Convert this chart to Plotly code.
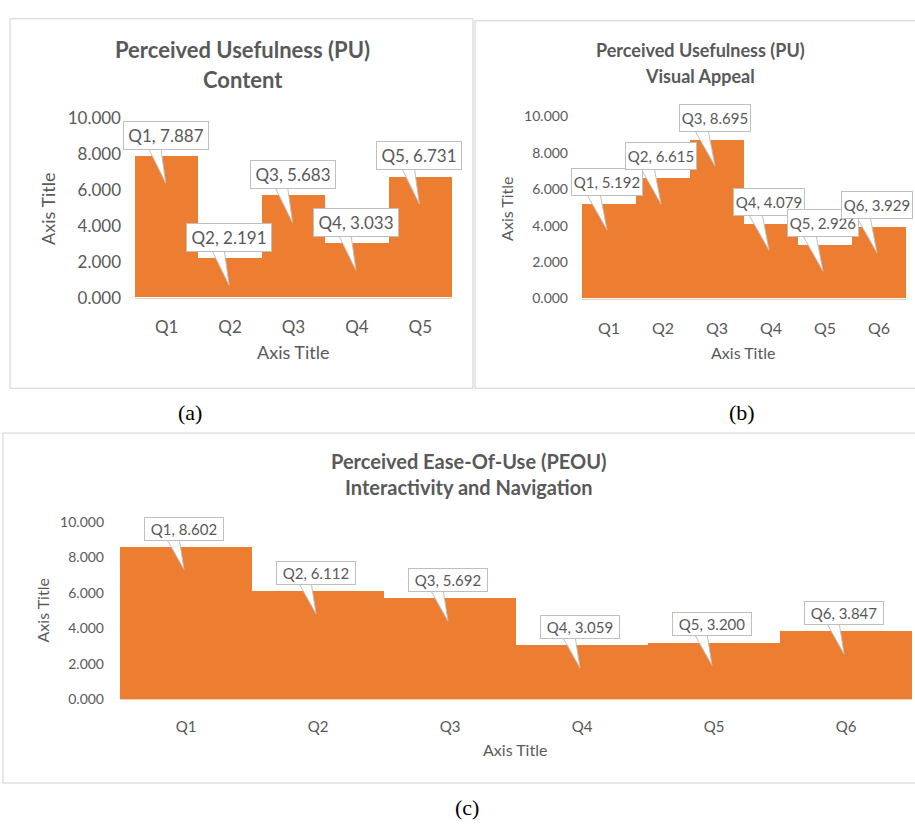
import plotly.graph_objects as go

# ---------------- data ----------------
cats_a = ["Q1", "Q2", "Q3", "Q4", "Q5"]
vals_a = [7.887, 2.191, 5.683, 3.033, 6.731]

cats_b = ["Q1", "Q2", "Q3", "Q4", "Q5", "Q6"]
vals_b = [5.192, 6.615, 8.695, 4.079, 2.926, 3.929]

cats_c = ["Q1", "Q2", "Q3", "Q4", "Q5", "Q6"]
vals_c = [8.602, 6.112, 5.692, 3.059, 3.200, 3.847]

y_ticks = [0, 2, 4, 6, 8, 10]

W, H = 915, 832
ORANGE = "#ED7D31"
GRAY = "#595959"
FONT = "Lato"


def px(x):
    return x / W


def py(y):
    return 1 - y / H


fig = go.Figure()

panels = [
    dict(cats=cats_a, vals=vals_a, sfx="", xd=(135, 452), yd=(294, 110),
         tick=17, xtick=17, lab=17, box=(84, 27), lab_up=21, tip=27, xs=-1, wedge=(-19, -6),
         title=("Perceived Usefulness (PU)", "Content"), tx=243, ty=(39, 70), tfs=22,
         ytitle=(48, 203), xtitle=(293, 350), afs=18, xstand=14, ystand=13),
    dict(cats=cats_b, vals=vals_b, sfx="2", xd=(582, 906), yd=(295, 108),
         tick=14, xtick=16, lab=15, box=(70, 26), lab_up=22, tip=26, xs=-2, wedge=(-23, -9),
         title=("Perceived Usefulness (PU)", "Visual Appeal"), tx=700, ty=(40, 67), tfs=18,
         ytitle=(507, 203), xtitle=(743, 350), afs=16, xstand=15, ystand=13),
    dict(cats=cats_c, vals=vals_c, sfx="3", xd=(120, 912), yd=(706, 524),
         tick=14, xtick=15, lab=15, box=(78, 22), lab_up=18, tip=23, xs=-2, wedge=(-20, -7),
         title=("Perceived Ease-Of-Use (PEOU)", "Interactivity and Navigation"), tx=469,
         ty=(462, 488), tfs=20, ytitle=(42, 615), xtitle=(515, 758), afs=16, xstand=14, ystand=15),
]

annotations = []
shapes = []

# frames
frame = dict(color="#d0d0d0", width=1)
shapes.append(dict(type="rect", xref="paper", yref="paper", x0=px(10), x1=px(473),
                   y0=py(387), y1=py(8), line=frame, layer="below"))
shapes.append(dict(type="rect", xref="paper", yref="paper", x0=px(475), x1=px(916),
                   y0=py(387), y1=py(10), line=frame, layer="below"))
shapes.append(dict(type="rect", xref="paper", yref="paper", x0=px(3), x1=px(916),
                   y0=py(792), y1=py(433), line=frame, layer="below"))

for p in panels:
    n = len(p["cats"])
    xa = "x" + p["sfx"]
    ya = "y" + p["sfx"]
    fig.add_trace(go.Bar(
        x=list(range(n)), y=p["vals"], width=1,
        marker=dict(color=ORANGE, line=dict(width=0)),
        xaxis=xa, yaxis=ya, showlegend=False, hoverinfo="skip",
    ))
    fig.layout["xaxis" + p["sfx"]] = dict(
        domain=[px(p["xd"][0]), px(p["xd"][1])], anchor=ya,
        range=[-0.5, n - 0.5], tickmode="array", tickvals=list(range(n)),
        ticktext=p["cats"], showgrid=False, zeroline=False,
        showline=True, linecolor="#e6d2c2", linewidth=1,
        tickfont=dict(family=FONT, size=p["xtick"], color=GRAY),
        ticklabelstandoff=p["xstand"], fixedrange=True,
    )
    fig.layout["yaxis" + p["sfx"]] = dict(
        domain=[py(p["yd"][0]), py(p["yd"][1])], anchor=xa,
        range=[0, 10], tickmode="array", tickvals=y_ticks,
        ticktext=[f"{v:.3f}" for v in y_ticks], showgrid=False, zeroline=False,
        showline=False, tickfont=dict(family=FONT, size=p["tick"], color=GRAY),
        ticklabelstandoff=p["ystand"], fixedrange=True,
    )
    # chart titles
    for line, yy in zip(p["title"], p["ty"]):
        annotations.append(dict(xref="paper", yref="paper", x=px(p["tx"]), y=py(yy),
                                text="<b>" + line + "</b>", showarrow=False,
                                xanchor="center", yanchor="middle",
                                font=dict(family=FONT, size=p["tfs"], color=GRAY)))
    # axis titles
    annotations.append(dict(xref="paper", yref="paper", x=px(p["xtitle"][0]), y=py(p["xtitle"][1]),
                            text="Axis Title", showarrow=False, xanchor="center", yanchor="middle",
                            font=dict(family=FONT, size=p["afs"], color=GRAY)))
    annotations.append(dict(xref="paper", yref="paper", x=px(p["ytitle"][0]), y=py(p["ytitle"][1]),
                            text="Axis Title", showarrow=False, xanchor="center", yanchor="middle",
                            textangle=-90, font=dict(family=FONT, size=p["afs"], color=GRAY)))
    # callouts
    bw, bh = p["box"]
    w0, w1 = p["wedge"]
    for i, (c, v) in enumerate(zip(p["cats"], p["vals"])):
        base = p["lab_up"] - bh / 2 + 2
        tip = -p["tip"]
        shapes.append(dict(
            type="path", xref=xa, yref=ya, xsizemode="pixel", ysizemode="pixel",
            xanchor=i, yanchor=v,
            path=f"M {w0} {base} L {w1} {base} L {p['xs']} {tip} Z",
            fillcolor="white", line=dict(color="#bfbfbf", width=1), layer="above",
        ))
        annotations.append(dict(
            xref=xa, yref=ya, x=i, y=v, text=f"{c}, {v:.3f}", showarrow=False,
            xanchor="center", yanchor="middle", yshift=p["lab_up"], xshift=p["xs"],
            width=bw, height=bh, align="center", valign="middle",
            bgcolor="white", bordercolor="#bfbfbf", borderwidth=1, borderpad=0,
            font=dict(family=FONT, size=p["lab"], color=GRAY),
        ))

# panel captions
for txt, x, y in [("(a)", 190, 412), ("(b)", 742, 412), ("(c)", 467, 817)]:
    annotations.append(dict(xref="paper", yref="paper", x=px(x), y=py(y), text=txt,
                            showarrow=False, xanchor="center", yanchor="middle",
                            font=dict(family="Liberation Serif", size=22, color="black")))

fig.update_layout(
    width=W, height=H, margin=dict(l=0, r=0, t=0, b=0),
    paper_bgcolor="white", plot_bgcolor="white", bargap=0,
    annotations=annotations, shapes=shapes, showlegend=False,
)

post = (
    "document.documentElement.style.margin='0';"
    "document.body.style.margin='0';"
    "document.body.style.overflow='hidden';"
)
fig.write_html("out.html", config={"displayModeBar": False}, post_script=post)
